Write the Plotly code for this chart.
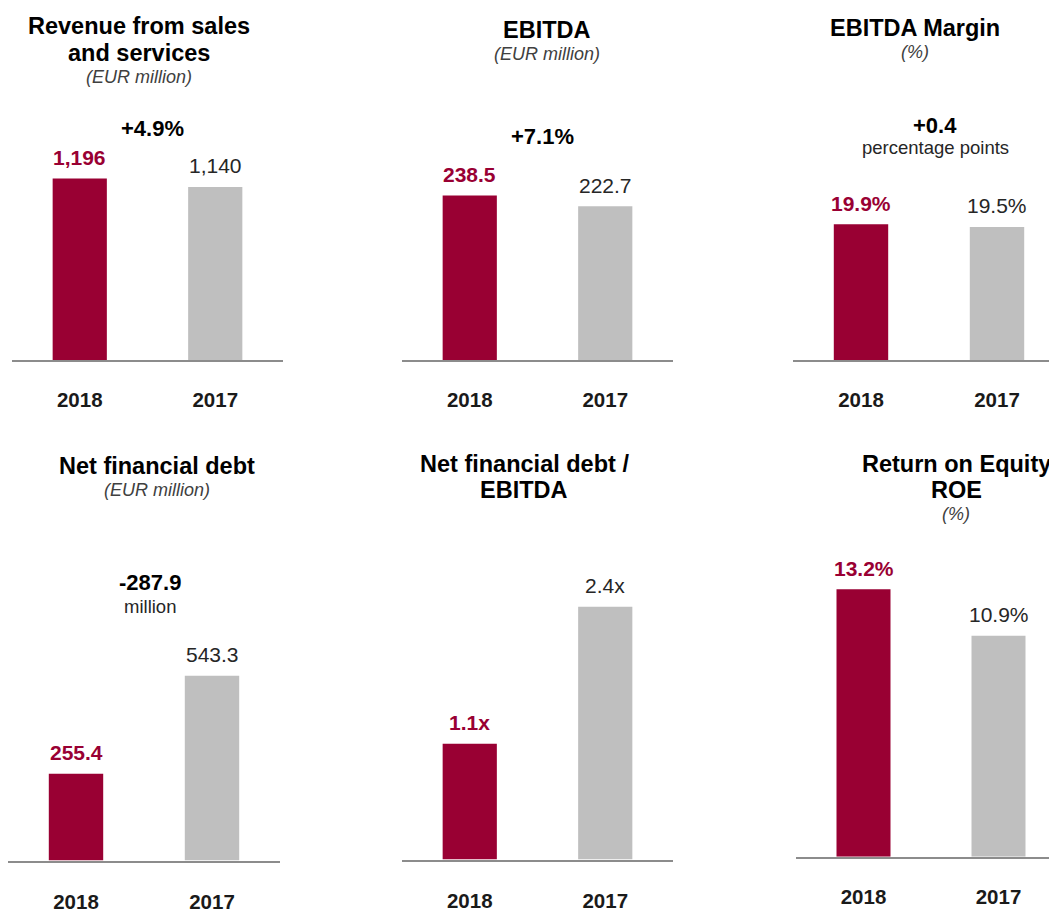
import plotly.graph_objects as go

W, H = 1049, 913

# data
years = ["2018", "2017"]
revenue = [1196, 1140]
ebitda = [238.5, 222.7]
ebitda_margin = [19.9, 19.5]
net_debt = [255.4, 543.3]
debt_to_ebitda = [1.1, 2.4]
roe = [13.2, 10.9]

titles = [["Revenue from sales", "and services"], ["EBITDA"], ["EBITDA Margin"],
          ["Net financial debt"], ["Net financial debt /", "EBITDA"], ["Return on Equity", "ROE"]]
subtitles = ["(EUR million)", "(EUR million)", "(%)", "(EUR million)", "", "(%)"]
deltas = ["+4.9%", "+7.1%", "+0.4", "-287.9", "", ""]
delta_notes = ["", "", "percentage points", "million", "", ""]

RED = "#990033"
GREY = "#BFBFBF"
FONT = "Arial, 'Liberation Sans', sans-serif"


def px(x):
    return x / W


def py(y):
    return 1 - y / H


# per-panel geometry in pixels: axis line start/end, category step, baseline, px per unit,
# domain top, tick label standoff, title centre x, title line ys, subtitle y, delta x/y, note y
panels = [
    dict(vals=revenue, fmt=lambda v: f"{v:,.0f}", x0=12, x1=283, step=135.5, base=366, ppu=0.1545, top=90,
         sd=20, tx=139, ty=[26, 54], sy=78, dx=152, dy=131, ny=0),
    dict(vals=ebitda, fmt=lambda v: f"{v:.1f}", x0=402, x1=673, step=135.5, base=366, ppu=0.7025, top=90,
         sd=20, tx=547, ty=[30], sy=55, dx=542, dy=139, ny=0),
    dict(vals=ebitda_margin, fmt=lambda v: f"{v:.1f}%", x0=793, x1=1049, step=136, base=366, ppu=6.95, top=90,
         sd=20, tx=915, ty=[28], sy=53, dx=935, dy=127, ny=150),
    dict(vals=net_debt, fmt=lambda v: f"{v:.1f}", x0=8, x1=280, step=136, base=874, ppu=0.3455, top=560,
         sd=22, tx=157, ty=[473], sy=498, dx=150, dy=592, ny=616),
    dict(vals=debt_to_ebitda, fmt=lambda v: f"{v:.1f}x", x0=402, x1=673, step=135.5, base=873, ppu=107, top=560,
         sd=22, tx=524, ty=[471, 498], sy=0, dx=0, dy=0, ny=0),
    dict(vals=roe, fmt=lambda v: f"{v:.1f}%", x0=796, x1=1049, step=135, base=870, ppu=20.58, top=560,
         sd=21, tx=956, ty=[471, 498], sy=522, dx=0, dy=0, ny=0),
]

fig = go.Figure()
annotations = []


def label(x, y, text, size, color="#000000", **font):
    annotations.append(dict(
        x=px(x), y=py(y), xref="paper", yref="paper", text=text, showarrow=False,
        xanchor="center", yanchor="middle",
        font=dict(family=FONT, size=size, color=color, **font)))


for i, p in enumerate(panels):
    n = i + 1
    xa = "x" if n == 1 else f"x{n}"
    ya = "y" if n == 1 else f"y{n}"

    fig.add_trace(go.Bar(x=[years[0]], y=[p["vals"][0]], width=0.4, marker_color=RED,
                         marker_line_width=0, xaxis=xa, yaxis=ya, showlegend=False))
    fig.add_trace(go.Bar(x=[years[1]], y=[p["vals"][1]], width=0.4, marker_color=GREY,
                         marker_line_width=0, xaxis=xa, yaxis=ya, showlegend=False))

    xmax = -0.5 + (p["x1"] - p["x0"]) / p["step"]
    ymax = (p["base"] - p["top"]) / p["ppu"]
    fig.update_layout(**{
        f"xaxis{'' if n == 1 else n}": dict(
            domain=[px(p["x0"]), px(p["x1"])], anchor=ya, type="category",
            categoryorder="array", categoryarray=years, range=[-0.5, xmax],
            showline=True, linecolor="#8C8C8C", linewidth=2, showgrid=False, zeroline=False,
            ticks="", ticklabelstandoff=p["sd"], fixedrange=True,
            tickfont=dict(family=FONT, size=20.5, color="#1A1A1A", weight="bold")),
        f"yaxis{'' if n == 1 else n}": dict(
            domain=[py(p["base"]), py(p["top"])], anchor=xa, range=[0, ymax],
            visible=False, fixedrange=True),
    })

    # value labels above bars (x given as category index)
    for j, v in enumerate(p["vals"]):
        annotations.append(dict(
            x=j, y=v, xref=xa, yref=ya, text=p["fmt"](v), showarrow=False,
            yanchor="middle", yshift=21,
            font=dict(family=FONT, size=21, color=RED if j == 0 else "#262626",
                      weight="bold" if j == 0 else "normal")))

    for line, ty in zip(titles[i], p["ty"]):
        label(p["tx"], ty, line, 23.5, weight="bold")
    if subtitles[i]:
        label(p["tx"], p["sy"], subtitles[i], 18, "#404040", style="italic")
    if deltas[i]:
        label(p["dx"], p["dy"], deltas[i], 22, weight="bold")
    if delta_notes[i]:
        label(p["dx"], p["ny"], delta_notes[i], 18.5, "#262626")

fig.update_layout(
    width=W, height=H, margin=dict(l=0, r=0, t=0, b=0),
    paper_bgcolor="white", plot_bgcolor="white",
    barmode="overlay", annotations=annotations,
    font=dict(family=FONT),
)

fig.write_html("out.html", config={"displayModeBar": False},
               post_script="document.body.style.margin='0';")
